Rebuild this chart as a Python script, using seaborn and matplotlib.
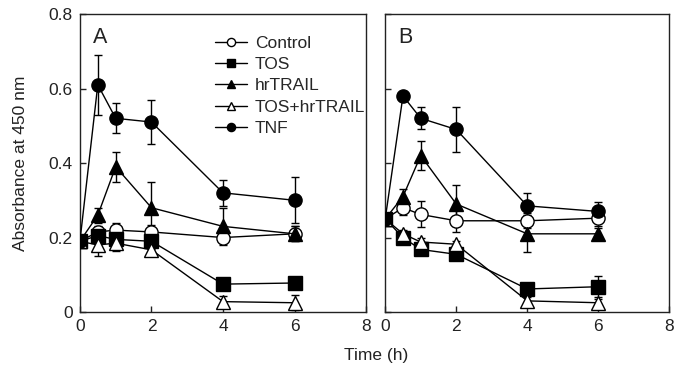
import numpy as np
import pandas as pd
import matplotlib
matplotlib.use("Agg")
import matplotlib.pyplot as plt
import seaborn as sns

# ---------------------------------------------------------
# DATA
# ---------------------------------------------------------
time = [0, 0.5, 1, 2, 4, 6]
groups = ["Control", "TOS", "hrTRAIL", "TOS+hrTRAIL", "TNF"]

# panel A
control_a = [0.19, 0.215, 0.22, 0.215, 0.20, 0.21]
tos_a = [0.19, 0.205, 0.195, 0.19, 0.075, 0.078]
trail_a = [0.19, 0.26, 0.39, 0.28, 0.23, 0.21]
tostrail_a = [0.19, 0.18, 0.185, 0.167, 0.028, 0.025]
tnf_a = [0.19, 0.61, 0.52, 0.51, 0.32, 0.30]

control_a_err = [0, 0.015, 0.02, 0.02, 0.015, 0.02]
tos_a_err = [0, 0.01, 0.01, 0.02, 0.01, 0.01]
trail_a_err = [0, 0.02, 0.04, 0.07, 0.05, 0.02]
tostrail_a_err = [0, 0.03, 0.02, 0.01, 0.015, 0.02]
tnf_a_err = [0, 0.08, 0.04, 0.06, 0.035, 0.062]

# panel B
control_b = [0.25, 0.28, 0.262, 0.245, 0.245, 0.252]
tos_b = [0.25, 0.20, 0.168, 0.155, 0.062, 0.068]
trail_b = [0.25, 0.31, 0.42, 0.29, 0.21, 0.21]
tostrail_b = [0.25, 0.21, 0.188, 0.182, 0.03, 0.025]
tnf_b = [0.25, 0.58, 0.52, 0.49, 0.285, 0.27]

control_b_err = [0, 0.02, 0.035, 0.03, 0.02, 0.02]
tos_b_err = [0, 0.01, 0.01, 0.01, 0.01, 0.028]
trail_b_err = [0, 0.02, 0.04, 0.05, 0.05, 0.015]
tostrail_b_err = [0, 0.01, 0.01, 0.01, 0.01, 0.01]
tnf_b_err = [0, 0.01, 0.03, 0.06, 0.035, 0.025]

xticks = [0, 2, 4, 6, 8]
yticks = [0, 0.2, 0.4, 0.6, 0.8]
ytick_labels = ["0", "0.2", "0.4", "0.6", "0.8"]

# ---------------------------------------------------------
# STYLE
# ---------------------------------------------------------
sns.set_style("ticks")
plt.rcParams["font.family"] = ["Liberation Sans", "DejaVu Sans"]
plt.rcParams["xtick.direction"] = "in"
plt.rcParams["ytick.direction"] = "in"

styles = {
    "Control":     dict(marker="o", mfc="white"),
    "TOS":         dict(marker="s", mfc="black"),
    "hrTRAIL":     dict(marker="^", mfc="black"),
    "TOS+hrTRAIL": dict(marker="^", mfc="white"),
    "TNF":         dict(marker="o", mfc="black"),
}

panels = {
    "A": ([control_a, tos_a, trail_a, tostrail_a, tnf_a],
          [control_a_err, tos_a_err, trail_a_err, tostrail_a_err, tnf_a_err]),
    "B": ([control_b, tos_b, trail_b, tostrail_b, tnf_b],
          [control_b_err, tos_b_err, trail_b_err, tostrail_b_err, tnf_b_err]),
}

fig = plt.figure(figsize=(6.83, 3.68), dpi=100)
ax_a = fig.add_axes([0.117, 0.152, 0.419, 0.810])
ax_b = fig.add_axes([0.564, 0.152, 0.416, 0.810])

for ax, (name, (vals, errs)) in zip([ax_a, ax_b], panels.items()):
    for g, v, e in zip(groups, vals, errs):
        df = pd.DataFrame({"time": time, "abs": v})
        ax.errorbar(time, v, yerr=e, fmt="none", ecolor="black",
                    elinewidth=1.0, capsize=3, capthick=1.0, zorder=2)
        sns.lineplot(data=df, x="time", y="abs", ax=ax, color="black",
                     lw=1.0, ms=9.5, mec="black", mew=1.0,
                     label=g, legend=False, zorder=3, **styles[g])
    ax.set_xlim(0, 8)
    ax.set_ylim(0, 0.8)
    ax.set_xticks(xticks)
    ax.set_yticks(yticks)
    ax.set_xlabel("")
    ax.set_ylabel("")
    for s in ax.spines.values():
        s.set_linewidth(1.0)
        s.set_color("#222222")
    ax.tick_params(length=4, width=1.0, labelsize=12.5, colors="#222222", pad=5)
    ax.text(0.045, 0.958, name, transform=ax.transAxes, fontsize=15.5,
            va="top", ha="left", color="#222222")

ax_a.set_yticklabels(ytick_labels)
ax_b.set_yticklabels([])

handles, labels = ax_a.get_legend_handles_labels()
ax_a.legend(handles, labels, loc="upper left", bbox_to_anchor=(0.472, 0.928),
            frameon=False, fontsize=12.5, handlelength=1.85, handletextpad=0.45,
            labelspacing=0.36, markerscale=0.62, borderaxespad=0, borderpad=0)

fig.text(0.03, 0.152 + 0.405, "Absorbance at 450 nm", rotation=90,
         ha="center", va="center", fontsize=12.5, color="#222222")
fig.text(0.55, 0.033, "Time (h)", ha="center", va="center",
         fontsize=12.5, color="#222222")

plt.savefig("out.png", dpi=100)
plt.close()
